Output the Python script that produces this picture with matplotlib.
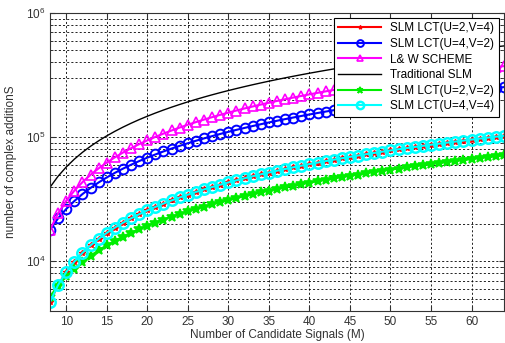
import numpy as np
import matplotlib.pyplot as plt

plt.rcParams['font.family'] = ['Liberation Sans', 'DejaVu Sans']

# number of candidate signals
M = list(range(8, 65))

# complex additions
slm_u2v4 = [4700, 6450, 8200, 9950, 11700, 13450, 15200, 16950, 18700, 20450,
            22200, 23950, 25700, 27450, 29200, 30950, 32700, 34450, 36200, 37950,
            39700, 41450, 43200, 44950, 46700, 48450, 50200, 51950, 53700, 55450,
            57200, 58950, 60700, 62450, 64200, 65950, 67700, 69450, 71200, 72950,
            74700, 76450, 78200, 79950, 81700, 83450, 85200, 86950, 88700, 90450,
            92200, 93950, 95700, 97450, 99200, 100950, 102700]
slm_u4v2 = [18000, 22200, 26400, 30600, 34800, 39000, 43200, 47400, 51600, 55800,
            60000, 64200, 68400, 72600, 76800, 81000, 85200, 89400, 93600, 97800,
            102000, 106200, 110400, 114600, 118800, 123000, 127200, 131400, 135600, 139800,
            144000, 148200, 152400, 156600, 160800, 165000, 169200, 173400, 177600, 181800,
            186000, 190200, 194400, 198600, 202800, 207000, 211200, 215400, 219600, 223800,
            228000, 232200, 236400, 240600, 244800, 249000, 253200]
lw_scheme = [18000, 24350, 30700, 37050, 43400, 49750, 56100, 62450, 68800, 75150,
             81500, 87850, 94200, 100550, 106900, 113250, 119600, 125950, 132300, 138650,
             145000, 151350, 157700, 164050, 170400, 176750, 183100, 189450, 195800, 202150,
             208500, 214850, 221200, 227550, 233900, 240250, 246600, 252950, 259300, 265650,
             272000, 278350, 284700, 291050, 297400, 303750, 310100, 316450, 322800, 329150,
             335500, 341850, 348200, 354550, 360900, 367250, 373600]
trad_slm = [39500, 48500, 57500, 66500, 75500, 84500, 93500, 102500, 111500, 120500,
            129500, 138500, 147500, 156500, 165500, 174500, 183500, 192500, 201500, 210500,
            219500, 228500, 237500, 246500, 255500, 264500, 273500, 282500, 291500, 300500,
            309500, 318500, 327500, 336500, 345500, 354500, 363500, 372500, 381500, 390500,
            399500, 408500, 417500, 426500, 435500, 444500, 453500, 462500, 471500, 480500,
            489500, 498500, 507500, 516500, 525500, 534500, 543500]
slm_u2v2 = [5200, 6380, 7560, 8740, 9920, 11100, 12280, 13460, 14640, 15820,
            17000, 18180, 19360, 20540, 21720, 22900, 24080, 25260, 26440, 27620,
            28800, 29980, 31160, 32340, 33520, 34700, 35880, 37060, 38240, 39420,
            40600, 41780, 42960, 44140, 45320, 46500, 47680, 48860, 50040, 51220,
            52400, 53580, 54760, 55940, 57120, 58300, 59480, 60660, 61840, 63020,
            64200, 65380, 66560, 67740, 68920, 70100, 71280]
slm_u4v4 = slm_u2v4

fig = plt.figure(figsize=(5.05, 3.43), dpi=100)
ax = fig.add_axes([0.099, 0.094, 0.899, 0.868])

ax.semilogy(M, slm_u2v4, color='red', marker='*', ms=4, lw=1.5, label='SLM LCT(U=2,V=4)')
ax.semilogy(M, slm_u4v2, color='blue', marker='o', ms=7, mfc='none', mew=1.4, lw=1.5,
            label='SLM LCT(U=4,V=2)')
ax.semilogy(M, lw_scheme, color='magenta', marker='^', ms=7, mfc='none', mew=1.2, lw=1.5,
            label='L& W SCHEME')
ax.semilogy(M, trad_slm, color='black', lw=1.0, label='Traditional SLM')
ax.semilogy(M, slm_u2v2, color='#00ee00', marker='*', ms=7, mew=1.2, lw=1.5, label='SLM LCT(U=2,V=2)')
ax.semilogy(M, slm_u4v4, color='cyan', marker='o', ms=7.5, mfc='none', mew=1.8, lw=1.5,
            label='SLM LCT(U=4,V=4)')

ax.set_xlim(8, 64)
ax.set_ylim(4000, 1e6)
ax.set_xticks(range(10, 65, 5))
ax.grid(True, which='both', color='black', linestyle=(0, (2.5, 2.5)), lw=0.6)
ax.tick_params(which='both', direction='in', top=True, right=True, labelsize=8.5, colors='#333333')
for s in ax.spines.values():
    s.set_color('#333333')

ax.set_xlabel('Number of Candidate Signals (M)', fontsize=8.5, color='#333333', labelpad=1)
ax.set_ylabel('number of complex additionS', fontsize=8.5, color='#333333', labelpad=6)

leg = ax.legend(loc='upper right', fontsize=8.5, handlelength=3.6, fancybox=False,
                framealpha=1, edgecolor='black', borderaxespad=0.4, labelspacing=0.3,
                markerscale=0.7)
leg.get_frame().set_linewidth(0.8)

fig.savefig('out.png', dpi=100)
